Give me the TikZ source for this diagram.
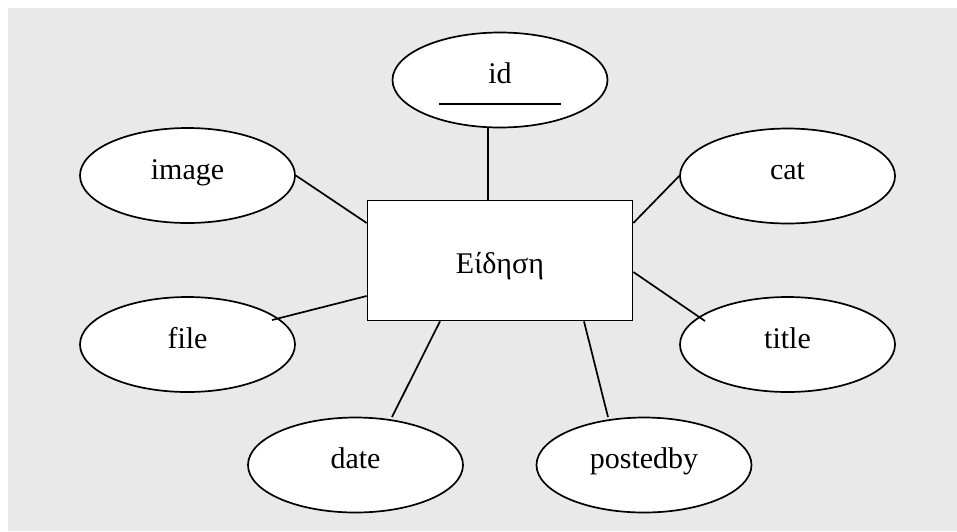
\documentclass[tikz,border=0pt]{standalone}
\usepackage{fontspec}
\setmainfont{Liberation Serif}
\usetikzlibrary{shapes.geometric,calc}
\definecolor{bgcol}{RGB}{233,233,233}
\tikzset{
  attr/.style={ellipse,draw=black,line width=1.7pt,fill=white,minimum width=215pt,minimum height=95pt,inner sep=0pt,
    font=\fontsize{30}{36}\selectfont,text height=14pt,text depth=7pt},
  ent/.style={rectangle,draw=black,line width=1.7pt,fill=white,minimum width=265pt,minimum height=120pt,inner sep=0pt,
    font=\fontsize{30}{36}\selectfont,text height=25pt,text depth=0pt},
  conn/.style={line width=1.7pt,draw=black}
}
\begin{document}
\begin{tikzpicture}[x=1pt,y=-1pt]
\useasboundingbox (0,0) rectangle (957,531);
\fill[bgcol] (8,8) rectangle (957,531);
\node[ent] (r) at (500,260.5) {Είδηση};
\node[attr] (id) at (500,80) {id};
\node[attr] (image) at (187.5,175.5) {image};
\node[attr] (file) at (187.5,344.5) {file};
\node[attr] (cat) at (787.5,176) {cat};
\node[attr] (title) at (787.5,344.5) {title};
\node[attr] (date) at (355.5,465) {date};
\node[attr] (postedby) at (644,465) {postedby};
\draw[conn] ($(id.center)+(-61,24)$) -- ($(id.center)+(61,24)$);
\draw[conn] ($(id.south)+(-12,0)$) -- ($(r.north)+(-12,0)$);
\draw[conn] (image.east) -- ($(r.west)+(0,-37.5)$);
\draw[conn] ($(file.center)+(84.5,-24.5)$) -- ($(r.west)+(0,35.5)$);
\draw[conn] ($(r.east)+(0,-37.5)$) -- (cat.west);
\draw[conn] ($(r.east)+(0,11.5)$) -- ($(title.center)+(-82.5,-23.5)$);
\draw[conn] ($(r.south)+(-60,0)$) -- ($(date.center)+(36.5,-48)$);
\draw[conn] ($(r.south)+(84,0)$) -- ($(postedby.center)+(-36,-48)$);
\end{tikzpicture}
\end{document}
